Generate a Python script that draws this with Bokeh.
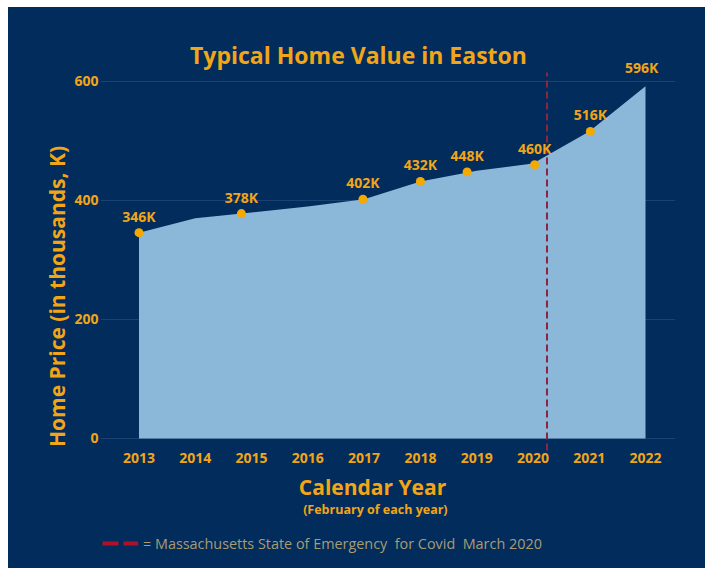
from bokeh.plotting import figure
from bokeh.models import Label, Legend, LegendItem, ColumnDataSource, FixedTicker, Range1d
from bokeh.core.properties import value
from bokeh.embed import file_html
from bokeh.resources import INLINE

# ---- data ----
area_years = [2013, 2014, 2015, 2016, 2017, 2018, 2019, 2020, 2021, 2022]
area_values = [346, 370, 380, 390, 402, 432, 450, 462, 516, 592]

point_years = [2013, 2014.82, 2016.98, 2018.0, 2018.83, 2020.03, 2021.02]
point_values = [346, 378, 402, 432, 448, 460, 516]

label_years = [2013, 2014.82, 2016.98, 2018.0, 2018.83, 2020.03, 2021.02, 2021.93]
label_values = [346, 378, 402, 432, 448, 460, 516, 596]
label_texts = ["346K", "378K", "402K", "432K", "448K", "460K", "516K", "596K"]

covid_x = 2020.25
covid_bottom = -20
covid_top = 615

x_ticks = [2013, 2014, 2015, 2016, 2017, 2018, 2019, 2020, 2021, 2022]
y_ticks = [0, 200, 400, 600]

BG = "#022C5C"
ORANGE = "#F2A516"
AREA = "#8BB8D9"
FONT = "Open Sans"

p = figure(output_backend="svg", toolbar_location=None,
           x_range=Range1d(2012.316, 2022.533), y_range=Range1d(-208.4, 685.7),
           frame_width=575, frame_height=532,
           min_border_left=92, min_border_right=30, min_border_top=23, min_border_bottom=6,
           margin=(7, 0, 0, 8), styles={"background-color": BG})
p.background_fill_color = BG
p.background_fill_alpha = 0
p.border_fill_color = BG
p.border_fill_alpha = 0
p.outline_line_color = None

# grid
p.xgrid.grid_line_color = None
p.ygrid.grid_line_color = "#1B4270"
p.ygrid.grid_line_width = 1
p.ygrid.ticker = FixedTicker(ticks=y_ticks)

# area
p.varea(x=area_years, y1=[0] * len(area_years), y2=area_values, fill_color=AREA, fill_alpha=1.0)

# covid line
p.line(x=[covid_x, covid_x], y=[covid_bottom, covid_top], line_color="#8E2342",
       line_width=2, line_dash="7 4")

# dots
p.scatter(x=point_years, y=point_values, size=9, fill_color="#F5A800", line_color=None)

# value labels
src = ColumnDataSource(dict(x=label_years, y=label_values, t=label_texts))
p.text(x="x", y="y", text="t", source=src, text_font=value(FONT), text_font_style="bold",
       text_font_size="14px", text_color=ORANGE, text_align="center",
       text_baseline="bottom", y_offset=-7)

# axes
p.xaxis.ticker = FixedTicker(ticks=x_ticks)
p.yaxis.ticker = FixedTicker(ticks=y_ticks)
for ax in (p.xaxis[0], p.yaxis[0]):
    ax.axis_line_color = None
    ax.major_tick_line_color = None
    ax.minor_tick_line_color = None
    ax.major_label_text_color = ORANGE
    ax.major_label_text_font = FONT
    ax.major_label_text_font_style = "bold"
    ax.major_label_text_font_size = "14px"
p.xaxis.fixed_location = -12
p.xaxis.major_label_standoff = 1
p.yaxis.bounds = (0, 600)
p.yaxis.major_label_standoff = -4
p.yaxis.axis_label = "Home Price (in thousands, K)"
p.yaxis.axis_label_text_color = ORANGE
p.yaxis.axis_label_text_font = FONT
p.yaxis.axis_label_text_font_style = "bold"
p.yaxis.axis_label_text_font_size = "21px"
p.yaxis.axis_label_standoff = 0

# title and x-axis captions
p.add_layout(Label(x=2016.9, y=644, text="Typical Home Value in Easton", text_color=ORANGE,
                   text_font=FONT, text_font_style="bold", text_font_size="23px",
                   text_align="center", text_baseline="middle"))
p.add_layout(Label(x=2017.15, y=-81, text="Calendar Year", text_color=ORANGE,
                   text_font=FONT, text_font_style="bold", text_font_size="21px",
                   text_align="center", text_baseline="middle"))
p.add_layout(Label(x=2017.2, y=-120, text="(February of each year)", text_color=ORANGE,
                   text_font=FONT, text_font_style="bold", text_font_size="12.5px",
                   text_align="center", text_baseline="middle"))

# legend (separate empty renderer for the thick legend dash)
leg_r = p.line(x=[float("nan")], y=[float("nan")], line_color="#B0102A", line_width=4,
               line_dash="16 5")
legend = Legend(items=[LegendItem(label="= Massachusetts State of Emergency  for Covid  March 2020",
                                  renderers=[leg_r])],
                location=(2, 9), orientation="horizontal",
                background_fill_alpha=0, border_line_color=None,
                label_text_color="#A89C74", label_text_font=FONT, label_text_font_size="14.4px",
                glyph_width=36, glyph_height=20, label_standoff=5, padding=0, margin=0,
                spacing=0)
p.add_layout(legend, "center")

open("out.html", "w").write(file_html(p, INLINE))
